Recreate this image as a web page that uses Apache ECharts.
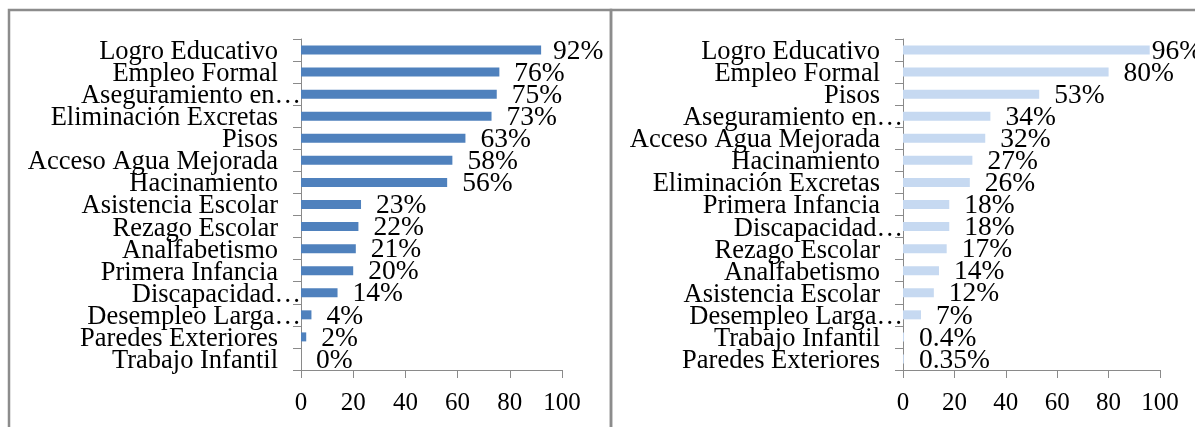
<!DOCTYPE html>
<html>
<head>
<meta charset="utf-8">
<script src="https://cdn.jsdelivr.net/npm/echarts@6/dist/echarts.min.js"></script>
<style>
  html, body { margin: 0; padding: 0; background: #fff; }
  #chart { width: 1195px; height: 427px; }
</style>
</head>
<body>
<div id="chart"></div>
<script>
// left panel
const leftCategories = [
  'Logro Educativo', 'Empleo Formal', 'Aseguramiento en…', 'Eliminación Excretas', 'Pisos',
  'Acceso Agua Mejorada', 'Hacinamiento', 'Asistencia Escolar', 'Rezago Escolar', 'Analfabetismo',
  'Primera Infancia', 'Discapacidad…', 'Desempleo Larga…', 'Paredes Exteriores', 'Trabajo Infantil'
];
const leftValues = [92, 76, 75, 73, 63, 58, 56, 23, 22, 21, 20, 14, 4, 2, 0];

// right panel
const rightCategories = [
  'Logro Educativo', 'Empleo Formal', 'Pisos', 'Aseguramiento en…', 'Acceso Agua Mejorada',
  'Hacinamiento', 'Eliminación Excretas', 'Primera Infancia', 'Discapacidad…', 'Rezago Escolar',
  'Analfabetismo', 'Asistencia Escolar', 'Desempleo Larga…', 'Trabajo Infantil', 'Paredes Exteriores'
];
const rightValues = [96, 80, 53, 34, 32, 27, 26, 18, 18, 17, 14, 12, 7, 0.4, 0.35];

const xTicks = [0, 20, 40, 60, 80, 100];

const FONT = '"Liberation Serif", "Times New Roman", serif';
const AXIS_GRAY = '#8a8a8a';

const chart = echarts.init(document.getElementById('chart'));

// truncated names keep their ellipsis hanging to the axis, like Excel does
const catLabel = value =>
  value.endsWith('…') ? `{e|${value}}` : `{n|${value}}`;

const makeYAxis = (gridIndex, data) => ({
  type: 'category',
  gridIndex,
  inverse: true,
  data,
  axisLine: { show: true, lineStyle: { color: AXIS_GRAY, width: 1 } },
  axisTick: { show: true, length: 8, lineStyle: { color: AXIS_GRAY } },
  axisLabel: {
    interval: 0,
    hideOverlap: false,
    margin: 0,
    formatter: catLabel,
    rich: {
      n: { fontFamily: FONT, fontSize: 26.5, color: '#000', padding: [4, 23, 0, 0] },
      e: { fontFamily: FONT, fontSize: 26.5, color: '#000', padding: [4, 0, 0, 0] }
    }
  }
});

const makeXAxis = gridIndex => ({
  type: 'value',
  gridIndex,
  min: xTicks[0],
  max: xTicks[xTicks.length - 1],
  interval: 20,
  splitLine: { show: false },
  axisLine: { show: true, lineStyle: { color: AXIS_GRAY, width: 1 } },
  axisTick: { show: true, length: 8, lineStyle: { color: AXIS_GRAY } },
  axisLabel: { margin: 21, fontFamily: FONT, fontSize: 25, color: '#000' }
});

const makeSeries = (idx, values, color, topDistance) => ({
  type: 'bar',
  xAxisIndex: idx,
  yAxisIndex: idx,
  barWidth: 9,
  data: values.map((v, i) =>
    i === 0 ? { value: v, label: { distance: topDistance } } : v
  ),
  itemStyle: { color },
  label: {
    show: true,
    position: 'right',
    distance: 15,
    offset: [0, 1.5],
    fontFamily: FONT,
    fontSize: 27.5,
    color: '#000',
    formatter: p => `${p.value}%`
  }
});

chart.setOption({
  animation: false,
  graphic: [
    {
      type: 'rect',
      shape: { x: 9, y: 10, width: 602, height: 440 },
      style: { fill: 'none', stroke: '#8c8c8c', lineWidth: 2.5 }
    },
    {
      type: 'rect',
      shape: { x: 611, y: 10, width: 600, height: 440 },
      style: { fill: 'none', stroke: '#8c8c8c', lineWidth: 2.5 }
    }
  ],
  grid: [
    { left: 301, top: 39, width: 261, height: 331 },
    { left: 903, top: 39, width: 257, height: 331 }
  ],
  xAxis: [makeXAxis(0), makeXAxis(1)],
  yAxis: [makeYAxis(0, leftCategories), makeYAxis(1, rightCategories)],
  series: [
    makeSeries(0, leftValues, '#4F81BD', 12),
    makeSeries(1, rightValues, '#C6D9F1', 2)
  ]
});
</script>
</body>
</html>
